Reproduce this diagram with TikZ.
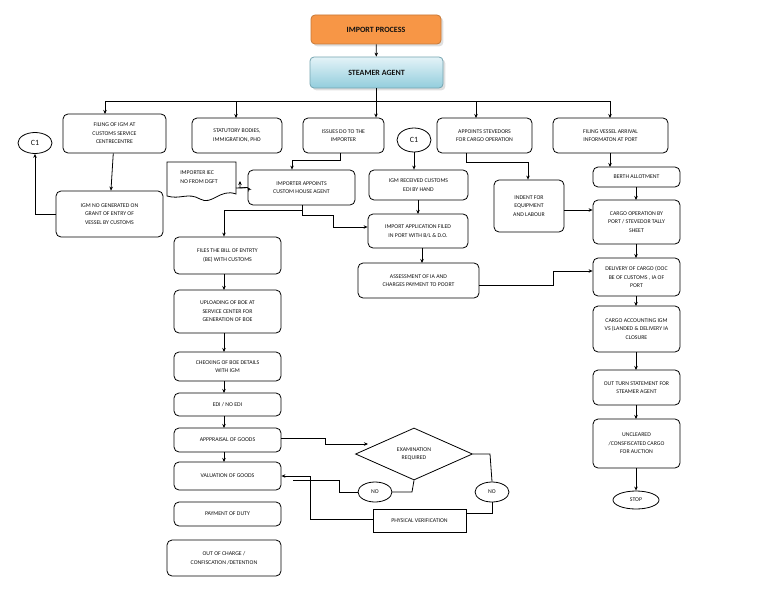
\documentclass[tikz,border=0pt]{standalone}
\usepackage{fontspec}
\setmainfont{Carlito}
\usetikzlibrary{arrows.meta,shapes.geometric,shadows}
\definecolor{orng}{HTML}{F79646}
\definecolor{bluetop}{HTML}{E4F3F8}
\definecolor{bluebot}{HTML}{92CDDC}
\definecolor{txt}{HTML}{111111}
\tikzset{
  box/.style={draw, rounded corners=5pt, line width=0.8pt, align=center, text=txt,
    font=\fontsize{5.8}{8.5}\selectfont, inner sep=1pt},
  sq/.style={draw, line width=0.8pt, align=center, text=txt, font=\fontsize{5.8}{8.5}\selectfont},
  el/.style={draw, ellipse, line width=0.8pt, inner sep=0pt, text=txt},
  ar/.style={-{Stealth[length=4pt,width=3.5pt]}, line width=0.8pt},
  ln/.style={line width=0.8pt}
}
\newcommand\bx[7][box]{\node[#1, minimum width={#5pt-#3pt}, minimum height={#6pt-#4pt}] (#2) at ({(#3+#5)/2},{(#4+#6)/2}) {#7};}
\begin{document}
\begin{tikzpicture}[x=1pt,y=-1pt]
\useasboundingbox (0,0) rectangle (768,594);
% top
\node[box, draw=orng!80!black, fill=orng, rounded corners=4pt, minimum width=130pt, minimum height=29pt,
  font=\fontsize{8}{9}\bfseries\selectfont, drop shadow={opacity=0.25}] (imp) at (376,29.5) {IMPORT PROCESS};
\node[box, draw=bluebot!80!black, top color=bluetop, bottom color=bluebot, rounded corners=4pt, minimum width=133pt, minimum height=31pt,
  font=\fontsize{8}{9}\bfseries\selectfont, drop shadow={opacity=0.25}] (stm) at (376.5,72.5) {STEAMER AGENT};
\draw[ar] (imp) -- (stm);
% row 1
\bx{igm}{63}{114}{166}{153}{FILING OF IGM AT\\CUSTOMS SERVICE\\CENTRECENTRE}
\bx{stat}{192}{118}{282}{153}{STATUTORY BODIES,\\IMMIGRATION, PHO}
\bx{do}{303}{118}{384}{153}{ISSUES DO TO THE\\IMPORTER}
\bx{stev}{437}{118}{532}{153}{APPOINTS STEVEDORS\\FOR CARGO OPERATION}
\bx{ves}{553}{118}{668}{153}{FILING VESSEL ARRIVAL\\INFORMATON AT PORT}
\coordinate (bus) at (376,101);
\draw[ln] (stm.south -| bus) -- (bus);
\draw[ln] (105,101) -- (610,101);
\draw[ar] (105,101) -- (105,114);
\draw[ar] (236,101) -- (236,118);
\draw[ar] (bus) -- (do.north -| bus);
\draw[ar] (476,101) -- (476,118);
\draw[ar] (610,101) -- (610,118);
% left
\node[el, minimum width=34pt, minimum height=21pt, font=\fontsize{8}{9}\selectfont] (c1a) at (35,143) {C1};
\bx{igmno}{56}{191}{163}{237}{IGM NO GENERATED ON\\GRANT OF ENTRY OF\\VESSEL BY CUSTOMS}
\draw[ar] (igm) -- (igmno);
\draw[ar] (igmno.west) -| (c1a.south);
% IEC document
\draw[ln, fill=white] (167,162) -- (236,162) -- (236,194) .. controls (220,188) and (212,206) .. (200,199) .. controls (188,192) and (180,200) .. (167,196) -- cycle;
\node[align=left, text=txt, font=\fontsize{5.8}{8.5}\selectfont] (iec) at (199,177) {IMPORTER IEC\\NO FROM DGFT};
\bx{cha}{248}{170}{355}{205}{IMPORTER APPOINTS\\CUSTOM HOUSE AGENT}
\draw[ar] (340,153) -- (340,160) -- (292,160) -- (cha.north -| 292,0);
\draw[ar] (cha.west) -- (240,188) -- (240,181);
\draw[ln] (236,188) -- (cha.west);
\draw[ar] (248,188) -- (cha.west);
% middle
\node[el, minimum width=34pt, minimum height=24pt, font=\fontsize{8}{9}\selectfont] (c1b) at (414,140) {C1};
\bx{igmr}{369}{170}{468}{200}{IGM RECEIVED CUSTOMS\\EDI BY HAND}
\bx{iapp}{368}{214}{468}{248}{IMPORT APPLICATION FILED\\IN PORT WITH B/L \& D.O.}
\bx{ass}{358}{263}{479}{298}{ASSESSMENT OF IA AND\\CHARGES PAYMENT TO POORT}
\draw[ar] (c1b) -- (igmr.north -| c1b);
\draw[ar] (418,200) -- (418,214);
\draw[ar] (422,248) -- (422,263);
\draw[ar] (302,205) -- (302,215) -- (333,215) -- (333,227) -- (iapp.west |- 0,227);
\bx{ind}{494}{180}{564}{232}{INDENT FOR\\EQUIPMENT\\AND LABOUR}
\draw[ar] (466,153) -- (466,162) -- (528,162) -- (ind.north -| 528,0);
% right column
\bx{berth}{593}{167}{680}{187}{BERTH ALLOTMENT}
\bx{cop}{593}{200}{680}{244}{CARGO OPERATION BY\\PORT / STEVEDOR TALLY\\SHEET}
\bx{del}{593}{258}{680}{296}{DELIVERY OF CARGO (OOC\\BE OF CUSTOMS , IA OF\\PORT}
\bx{acc}{593}{306}{680}{352}{CARGO ACCOUNTING IGM\\VS (LANDED \& DELIVERY IA\\CLOSURE}
\bx{out}{593}{370}{680}{405}{OUT TURN STATEMENT FOR\\STEAMER AGENT}
\bx{unc}{593}{419}{680}{468}{UNCLEARED\\/CONSFISCATED CARGO\\FOR AUCTION}
\node[el, minimum width=46pt, minimum height=18pt, font=\fontsize{5.8}{8.5}\selectfont] (stop) at (636,500) {STOP};
\draw[ar] (610,153) -- (610,167);
\draw[ar] (636,187) -- (636,200);
\draw[ar] (636,244) -- (636,258);
\draw[ar] (636,296) -- (636,306);
\draw[ar] (636,352) -- (636,370);
\draw[ar] (636,405) -- (636,419);
\draw[ar] (636,468) -- (stop.north);
\draw[ar] (ind.east |- 0,210) -- (cop.west |- 0,210);
\draw[ar] (ass.east |- 0,285) -- (553,285) -- (553,271) -- (del.west |- 0,271);
% left column
\bx{be}{174}{237}{281}{274}{FILES THE BILL OF ENTRTY\\(BE) WITH CUSTOMS}
\bx{up}{174}{290}{281}{333}{UPLOADING OF BOE AT\\SERVICE CENTER FOR\\GENERATION OF BOE}
\bx{chk}{174}{352}{281}{381}{CHECKING OF BOE DETAILS\\WITH IGM}
\bx{edi}{174}{393}{281}{416}{EDI / NO EDI}
\bx{app}{174}{428}{281}{452}{APPPRAISAL OF GOODS}
\bx{val}{174}{462}{281}{490}{VALUATION OF GOODS}
\bx{pay}{174}{502}{281}{526}{PAYMENT OF DUTY}
\bx{ooc}{167}{540}{281}{576}{OUT OF CHARGE /\\CONFISCATION /DETENTION}
\draw[ar] (302,210) -- (224,210) -- (be.north -| 224,0);
\draw[ar] (224,274) -- (224,290);
\draw[ar] (224,333) -- (224,352);
\draw[ar] (224,381) -- (224,393);
\draw[ar] (224,416) -- (224,428);
\draw[ar] (224,452) -- (224,462);
% decision
\node[draw, diamond, aspect=2.25, line width=0.8pt, minimum width=117pt, minimum height=52pt, inner sep=0pt,
  align=center, text=txt, font=\fontsize{5.8}{8.5}\selectfont] (dia) at (414,454) {EXAMINATION\\REQUIRED};
\node[el, minimum width=34pt, minimum height=20pt, font=\fontsize{5.8}{8.5}\selectfont] (no1) at (375,492) {NO};
\node[el, minimum width=34pt, minimum height=20pt, font=\fontsize{5.8}{8.5}\selectfont] (no2) at (492,492) {NO};
\bx[sq]{pv}{373}{509}{466}{532}{PHYSICAL VERIFICATION}
\draw[ar] (app.east |- 0,438) -- (325,438) -- (325,444) -- (368,444);
\draw[ln] (dia.south) -- (412,492) -- (no1.east);
\draw[ln] (no1.west) -- (339,492) -- (339,480) -- (293,480);
\draw[ln] (dia.east) -- (490,454) -- (no2.north);
\draw[ln] (no2.south) -- (492,513) -- (pv.east |- 0,513);
\draw[ar] (pv.west |- 0,519) -- (310,519) -- (310,476) -- (val.east |- 0,476);
\end{tikzpicture}
\end{document}
